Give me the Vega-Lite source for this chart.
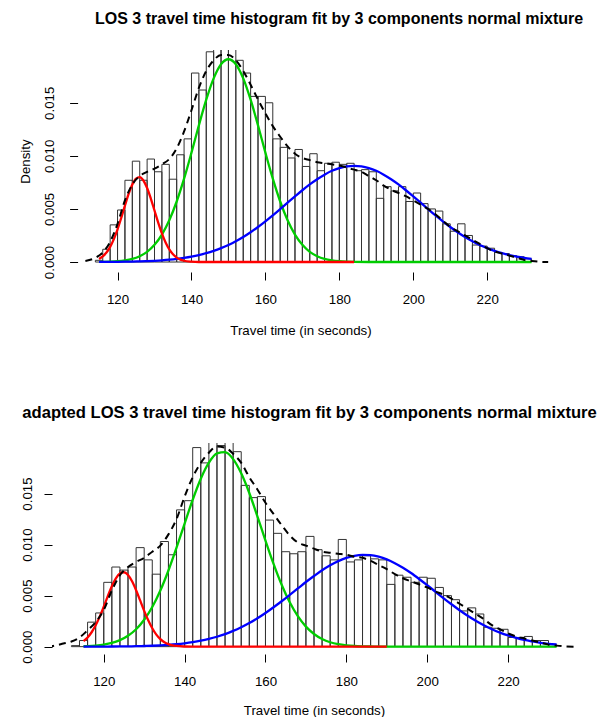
{
 "$schema": "https://vega.github.io/schema/vega-lite/v6.json",
 "padding": {"left": 18, "top": 11, "right": 0, "bottom": 0},
 "config": {
  "font": "Liberation Sans",
  "view": {"stroke": null},
  "axis": {"grid": false, "domain": false, "tickColor": "#000", "tickSize": 8, "labelColor": "#000", "labelFontSize": 13.3, "titleColor": "#000", "titleFontSize": 13.3, "titleFontWeight": "normal", "labelFlush": false, "labelOverlap": false},
  "title": {"fontWeight": "bold", "color": "#000"}
 },
 "bounds": "flush",
 "spacing": 171,
 "datasets": {
  "top_hist": [
   {"x":114,"x_end":116,"d":0.00016},{"x":116,"x_end":118,"d":0.0012},{"x":118,"x_end":120,"d":0.0035},{"x":120,"x_end":122,"d":0.0049},
   {"x":122,"x_end":124,"d":0.0077},{"x":124,"x_end":126,"d":0.0095},{"x":126,"x_end":128,"d":0.0077},{"x":128,"x_end":130,"d":0.0097},
   {"x":130,"x_end":132,"d":0.0085},{"x":132,"x_end":134,"d":0.0092},{"x":134,"x_end":136,"d":0.0078},{"x":136,"x_end":138,"d":0.0101},
   {"x":138,"x_end":140,"d":0.0116},{"x":140,"x_end":142,"d":0.0178},{"x":142,"x_end":144,"d":0.0162},{"x":144,"x_end":146,"d":0.0198},
   {"x":146,"x_end":148,"d":0.021},{"x":148,"x_end":150,"d":0.021},{"x":150,"x_end":152,"d":0.021},{"x":152,"x_end":154,"d":0.0190},
   {"x":154,"x_end":156,"d":0.0178},{"x":156,"x_end":158,"d":0.0156},{"x":158,"x_end":160,"d":0.0156},{"x":160,"x_end":162,"d":0.0150},
   {"x":162,"x_end":164,"d":0.0116},{"x":164,"x_end":166,"d":0.0108},{"x":166,"x_end":168,"d":0.0098},{"x":168,"x_end":170,"d":0.0106},
   {"x":170,"x_end":172,"d":0.0090},{"x":172,"x_end":174,"d":0.0102},{"x":174,"x_end":176,"d":0.0086},{"x":176,"x_end":178,"d":0.0093},
   {"x":178,"x_end":180,"d":0.0094},{"x":180,"x_end":182,"d":0.0092},{"x":182,"x_end":184,"d":0.0093},{"x":184,"x_end":186,"d":0.0086},
   {"x":186,"x_end":188,"d":0.0087},{"x":188,"x_end":190,"d":0.0085},{"x":190,"x_end":192,"d":0.0060},{"x":192,"x_end":194,"d":0.0071},
   {"x":194,"x_end":196,"d":0.0067},{"x":196,"x_end":198,"d":0.0071},{"x":198,"x_end":200,"d":0.0057},{"x":200,"x_end":202,"d":0.0065},
   {"x":202,"x_end":204,"d":0.0055},{"x":204,"x_end":206,"d":0.0050},{"x":206,"x_end":208,"d":0.0048},{"x":208,"x_end":210,"d":0.0036},
   {"x":210,"x_end":212,"d":0.0029},{"x":212,"x_end":214,"d":0.0036},{"x":214,"x_end":216,"d":0.0025},{"x":216,"x_end":218,"d":0.0016},
   {"x":218,"x_end":220,"d":0.0015},{"x":220,"x_end":222,"d":0.0013},{"x":222,"x_end":224,"d":0.0009},{"x":224,"x_end":226,"d":0.0008},
   {"x":226,"x_end":228,"d":0.0006},{"x":228,"x_end":230,"d":0.0005},{"x":230,"x_end":232,"d":0.0003}
  ],
  "top_red": [
   {"x":115,"d":0.00029},{"x":116,"d":0.00053},{"x":117,"d":0.00089},{"x":118,"d":0.00143},{"x":119,"d":0.00216},{"x":120,"d":0.00308},
   {"x":121,"d":0.00416},{"x":122,"d":0.00531},{"x":123,"d":0.00641},{"x":124,"d":0.0073},{"x":125,"d":0.00786},{"x":126,"d":0.00799},
   {"x":127,"d":0.00768},{"x":128,"d":0.00697},{"x":129,"d":0.00598},{"x":130,"d":0.00485},{"x":131,"d":0.00372},{"x":132,"d":0.00269},
   {"x":133,"d":0.00184},{"x":134,"d":0.00119},{"x":135,"d":0.00073},{"x":136,"d":0.00042},{"x":137,"d":0.00023},{"x":138,"d":0.00012},
   {"x":140,"d":0.00003},{"x":142,"d":0},{"x":184,"d":0}
  ],
  "top_green": [
   {"x":115,"d":0.00001},{"x":116,"d":0.000015},{"x":118,"d":0.000034},{"x":120,"d":0.000074},{"x":122,"d":0.00015},{"x":124,"d":0.00029},
   {"x":126,"d":0.00055},{"x":128,"d":0.00096},{"x":130,"d":0.00162},{"x":132,"d":0.00258},{"x":134,"d":0.00393},{"x":136,"d":0.0057},
   {"x":138,"d":0.00785},{"x":140,"d":0.0103},{"x":142,"d":0.01287},{"x":144,"d":0.01529},{"x":146,"d":0.0173},{"x":148,"d":0.01863},
   {"x":150,"d":0.0191},{"x":152,"d":0.01863},{"x":154,"d":0.0173},{"x":156,"d":0.01529},{"x":158,"d":0.01287},{"x":160,"d":0.0103},
   {"x":162,"d":0.00785},{"x":164,"d":0.0057},{"x":166,"d":0.00393},{"x":168,"d":0.00258},{"x":170,"d":0.00162},{"x":172,"d":0.00096},
   {"x":174,"d":0.00055},{"x":176,"d":0.00029},{"x":178,"d":0.00015},{"x":180,"d":0.000074},{"x":182,"d":0.000034},{"x":184,"d":0.000015},
   {"x":188,"d":0.000003},{"x":192,"d":0},{"x":232,"d":0}
  ],
  "top_blue": [
   {"x":115,"d":0.0000074},{"x":116,"d":0.0000091},{"x":118,"d":0.0000136},{"x":120,"d":0.00002},{"x":122,"d":0.000029},{"x":124,"d":0.000042},
   {"x":126,"d":0.00006},{"x":128,"d":0.000084},{"x":130,"d":0.000117},{"x":132,"d":0.00016},{"x":134,"d":0.000217},{"x":136,"d":0.00029},
   {"x":138,"d":0.000385},{"x":140,"d":0.000503},{"x":142,"d":0.00065},{"x":144,"d":0.00083},{"x":146,"d":0.00105},{"x":148,"d":0.00131},
   {"x":150,"d":0.00161},{"x":152,"d":0.00196},{"x":154,"d":0.00236},{"x":156,"d":0.00281},{"x":158,"d":0.0033},{"x":160,"d":0.00383},
   {"x":162,"d":0.0044},{"x":164,"d":0.00499},{"x":166,"d":0.00559},{"x":168,"d":0.00618},{"x":170,"d":0.00676},{"x":172,"d":0.00731},
   {"x":174,"d":0.0078},{"x":176,"d":0.00823},{"x":178,"d":0.00859},{"x":180,"d":0.00885},{"x":182,"d":0.00901},{"x":184,"d":0.00906},
   {"x":186,"d":0.00901},{"x":188,"d":0.00885},{"x":190,"d":0.00859},{"x":192,"d":0.00823},{"x":194,"d":0.0078},{"x":196,"d":0.00731},
   {"x":198,"d":0.00676},{"x":200,"d":0.00618},{"x":202,"d":0.00559},{"x":204,"d":0.00499},{"x":206,"d":0.0044},{"x":208,"d":0.00383},
   {"x":210,"d":0.0033},{"x":212,"d":0.00281},{"x":214,"d":0.00236},{"x":216,"d":0.00196},{"x":218,"d":0.00161},{"x":220,"d":0.00131},
   {"x":222,"d":0.00105},{"x":224,"d":0.00083},{"x":226,"d":0.00065},{"x":228,"d":0.000503},{"x":230,"d":0.000385},{"x":232,"d":0.00029}
  ],
  "top_kde": [
   {"x":111.3,"d":0.0001},{"x":114,"d":0.0004},{"x":116,"d":0.0009},{"x":118,"d":0.0019},{"x":120,"d":0.0036},{"x":122,"d":0.0058},
   {"x":124,"d":0.0073},{"x":126,"d":0.0081},{"x":128,"d":0.0085},{"x":130,"d":0.0088},{"x":132,"d":0.0092},{"x":134,"d":0.0097},
   {"x":136,"d":0.0107},{"x":138,"d":0.0123},{"x":140,"d":0.0143},{"x":142,"d":0.0164},{"x":144,"d":0.018},{"x":146,"d":0.019},
   {"x":148,"d":0.0195},{"x":150,"d":0.0195},{"x":152,"d":0.019},{"x":154,"d":0.018},{"x":156,"d":0.0167},{"x":158,"d":0.0153},
   {"x":160,"d":0.014},{"x":162,"d":0.0128},{"x":164,"d":0.0118},{"x":166,"d":0.0109},{"x":168,"d":0.0102},{"x":170,"d":0.0098},
   {"x":172,"d":0.0096},{"x":174,"d":0.0094},{"x":176,"d":0.0093},{"x":178,"d":0.0092},{"x":180,"d":0.0091},{"x":182,"d":0.0089},
   {"x":184,"d":0.0087},{"x":186,"d":0.0085},{"x":188,"d":0.0081},{"x":190,"d":0.0077},{"x":192,"d":0.0072},{"x":194,"d":0.0068},
   {"x":196,"d":0.0065},{"x":198,"d":0.0062},{"x":200,"d":0.0058},{"x":202,"d":0.0054},{"x":204,"d":0.005},{"x":206,"d":0.0045},
   {"x":208,"d":0.0039},{"x":210,"d":0.0033},{"x":212,"d":0.0029},{"x":214,"d":0.0025},{"x":216,"d":0.0021},{"x":218,"d":0.0017},
   {"x":220,"d":0.0013},{"x":222,"d":0.001},{"x":224,"d":0.0008},{"x":226,"d":0.0006},{"x":228,"d":0.0004},{"x":230,"d":0.0002},
   {"x":232,"d":0.0001},{"x":234,"d":0.00003},{"x":236.5,"d":0}
  ],
  "bot_hist": [
   {"x":112,"x_end":114,"d":0.0001},{"x":114,"x_end":116,"d":0.0006},{"x":116,"x_end":118,"d":0.0024},{"x":118,"x_end":120,"d":0.0033},
   {"x":120,"x_end":122,"d":0.0063},{"x":122,"x_end":124,"d":0.0078},{"x":124,"x_end":126,"d":0.0075},{"x":126,"x_end":128,"d":0.0078},
   {"x":128,"x_end":130,"d":0.0097},{"x":130,"x_end":132,"d":0.0085},{"x":132,"x_end":134,"d":0.0071},{"x":134,"x_end":136,"d":0.0103},
   {"x":136,"x_end":138,"d":0.009},{"x":138,"x_end":140,"d":0.0134},{"x":140,"x_end":142,"d":0.0143},{"x":142,"x_end":144,"d":0.0195},
   {"x":144,"x_end":146,"d":0.018},{"x":146,"x_end":148,"d":0.021},{"x":148,"x_end":150,"d":0.0197},{"x":150,"x_end":152,"d":0.021},
   {"x":152,"x_end":154,"d":0.0191},{"x":154,"x_end":156,"d":0.0158},{"x":156,"x_end":158,"d":0.0146},{"x":158,"x_end":160,"d":0.0147},
   {"x":160,"x_end":162,"d":0.0124},{"x":162,"x_end":164,"d":0.0111},{"x":164,"x_end":166,"d":0.0093},{"x":166,"x_end":168,"d":0.0091},
   {"x":168,"x_end":170,"d":0.0093},{"x":170,"x_end":172,"d":0.0108},{"x":172,"x_end":174,"d":0.0095},{"x":174,"x_end":176,"d":0.0089},
   {"x":176,"x_end":178,"d":0.0085},{"x":178,"x_end":180,"d":0.0105},{"x":180,"x_end":182,"d":0.0083},{"x":182,"x_end":184,"d":0.0085},
   {"x":184,"x_end":186,"d":0.0089},{"x":186,"x_end":188,"d":0.0086},{"x":188,"x_end":190,"d":0.0085},{"x":190,"x_end":192,"d":0.0061},
   {"x":192,"x_end":194,"d":0.007},{"x":194,"x_end":196,"d":0.0068},{"x":196,"x_end":198,"d":0.0063},{"x":198,"x_end":200,"d":0.0068},
   {"x":200,"x_end":202,"d":0.0067},{"x":202,"x_end":204,"d":0.0058},{"x":204,"x_end":206,"d":0.005},{"x":206,"x_end":208,"d":0.0046},
   {"x":208,"x_end":210,"d":0.0035},{"x":210,"x_end":212,"d":0.0038},{"x":212,"x_end":214,"d":0.0032},{"x":214,"x_end":216,"d":0.0019},
   {"x":216,"x_end":218,"d":0.0018},{"x":218,"x_end":220,"d":0.0017},{"x":220,"x_end":222,"d":0.0009},{"x":222,"x_end":224,"d":0.0009},
   {"x":224,"x_end":226,"d":0.001},{"x":226,"x_end":228,"d":0.0006},{"x":228,"x_end":230,"d":0.0006},{"x":230,"x_end":232,"d":0.0002}
  ],
  "bot_red": [
   {"x":115,"d":0.00054},{"x":116,"d":0.0009},{"x":117,"d":0.00141},{"x":118,"d":0.00209},{"x":119,"d":0.00294},{"x":120,"d":0.00392},
   {"x":121,"d":0.00494},{"x":122,"d":0.00591},{"x":123,"d":0.00669},{"x":124,"d":0.00717},{"x":125,"d":0.00729},{"x":126,"d":0.00702},
   {"x":127,"d":0.0064},{"x":128,"d":0.00553},{"x":129,"d":0.00453},{"x":130,"d":0.00351},{"x":131,"d":0.00258},{"x":132,"d":0.0018},
   {"x":133,"d":0.00118},{"x":134,"d":0.00074},{"x":135,"d":0.00044},{"x":136,"d":0.00025},{"x":137,"d":0.00013},{"x":138,"d":0.000066},
   {"x":140,"d":0.000014},{"x":142,"d":0},{"x":190,"d":0}
  ],
  "bot_green": [
   {"x":115,"d":0.000037},{"x":116,"d":0.000053},{"x":118,"d":0.000105},{"x":120,"d":0.0002},{"x":122,"d":0.00036},{"x":124,"d":0.00064},
   {"x":126,"d":0.00107},{"x":128,"d":0.00171},{"x":130,"d":0.00264},{"x":132,"d":0.00389},{"x":134,"d":0.0055},{"x":136,"d":0.00746},
   {"x":138,"d":0.00969},{"x":140,"d":0.01206},{"x":142,"d":0.01439},{"x":144,"d":0.01645},{"x":146,"d":0.01802},{"x":148,"d":0.01893},
   {"x":150,"d":0.01905},{"x":152,"d":0.01837},{"x":154,"d":0.01698},{"x":156,"d":0.01505},{"x":158,"d":0.01277},{"x":160,"d":0.01039},
   {"x":162,"d":0.00811},{"x":164,"d":0.00606},{"x":166,"d":0.00434},{"x":168,"d":0.00298},{"x":170,"d":0.00196},{"x":172,"d":0.00124},
   {"x":174,"d":0.00075},{"x":176,"d":0.00043},{"x":178,"d":0.00024},{"x":180,"d":0.00013},{"x":182,"d":0.000065},{"x":184,"d":0.000032},
   {"x":186,"d":0.000015},{"x":188,"d":0.000007},{"x":192,"d":0},{"x":232,"d":0}
  ],
  "bot_blue": [
   {"x":115,"d":0.0000028},{"x":116,"d":0.0000035},{"x":118,"d":0.0000056},{"x":120,"d":0.0000086},{"x":122,"d":0.000013},{"x":124,"d":0.00002},
   {"x":126,"d":0.00003},{"x":128,"d":0.000043},{"x":130,"d":0.000063},{"x":132,"d":0.00009},{"x":134,"d":0.000127},{"x":136,"d":0.000177},
   {"x":138,"d":0.000243},{"x":140,"d":0.000329},{"x":142,"d":0.00044},{"x":144,"d":0.00058},{"x":146,"d":0.000756},{"x":148,"d":0.00097},
   {"x":150,"d":0.00123},{"x":152,"d":0.00154},{"x":154,"d":0.0019},{"x":156,"d":0.00231},{"x":158,"d":0.00278},{"x":160,"d":0.0033},
   {"x":162,"d":0.00386},{"x":164,"d":0.00445},{"x":166,"d":0.00507},{"x":168,"d":0.0057},{"x":170,"d":0.00633},{"x":172,"d":0.00692},
   {"x":174,"d":0.00748},{"x":176,"d":0.00797},{"x":178,"d":0.00838},{"x":180,"d":0.00869},{"x":182,"d":0.0089},{"x":184,"d":0.00899},
   {"x":186,"d":0.00896},{"x":188,"d":0.00881},{"x":190,"d":0.00855},{"x":192,"d":0.00818},{"x":194,"d":0.00773},{"x":196,"d":0.00721},
   {"x":198,"d":0.00663},{"x":200,"d":0.00602},{"x":202,"d":0.00539},{"x":204,"d":0.00476},{"x":206,"d":0.00415},{"x":208,"d":0.00357},
   {"x":210,"d":0.00303},{"x":212,"d":0.00254},{"x":214,"d":0.0021},{"x":216,"d":0.00171},{"x":218,"d":0.00138},{"x":220,"d":0.0011},
   {"x":222,"d":0.00086},{"x":224,"d":0.00066},{"x":226,"d":0.00051},{"x":228,"d":0.00038},{"x":230,"d":0.00028},{"x":232,"d":0.00021}
  ],
  "bot_kde": [
   {"x":106,"d":0},{"x":108,"d":0.0001},{"x":110,"d":0.0003},{"x":112,"d":0.0005},{"x":114,"d":0.0009},{"x":116,"d":0.0016},
   {"x":118,"d":0.0024},{"x":120,"d":0.0036},{"x":122,"d":0.0055},{"x":124,"d":0.007},{"x":126,"d":0.0078},{"x":128,"d":0.0083},
   {"x":130,"d":0.0087},{"x":132,"d":0.0093},{"x":134,"d":0.0099},{"x":136,"d":0.011},{"x":138,"d":0.0125},{"x":140,"d":0.0147},
   {"x":142,"d":0.0166},{"x":144,"d":0.018},{"x":146,"d":0.019},{"x":148,"d":0.0196},{"x":150,"d":0.0195},{"x":152,"d":0.0189},
   {"x":154,"d":0.018},{"x":156,"d":0.0166},{"x":158,"d":0.0154},{"x":160,"d":0.0141},{"x":162,"d":0.013},{"x":164,"d":0.0119},
   {"x":166,"d":0.0109},{"x":168,"d":0.0102},{"x":170,"d":0.0099},{"x":172,"d":0.0096},{"x":174,"d":0.0093},{"x":176,"d":0.0092},
   {"x":178,"d":0.0091},{"x":180,"d":0.009},{"x":182,"d":0.0088},{"x":184,"d":0.0087},{"x":186,"d":0.0084},{"x":188,"d":0.008},
   {"x":190,"d":0.0076},{"x":192,"d":0.0071},{"x":194,"d":0.0067},{"x":196,"d":0.0064},{"x":198,"d":0.0061},{"x":200,"d":0.0058},
   {"x":202,"d":0.0054},{"x":204,"d":0.0051},{"x":206,"d":0.0047},{"x":208,"d":0.0042},{"x":210,"d":0.0037},{"x":212,"d":0.0032},
   {"x":214,"d":0.0027},{"x":216,"d":0.0021},{"x":218,"d":0.0017},{"x":220,"d":0.0013},{"x":222,"d":0.001},{"x":224,"d":0.0008},
   {"x":226,"d":0.0006},{"x":228,"d":0.0004},{"x":230,"d":0.0002},{"x":232,"d":0.0001},{"x":234,"d":0.00003},{"x":236.5,"d":0}
  ],
  "one": [{}]
 },
 "vconcat": [
  {
   "width": 497, "height": 222,
   "title": {"text": "LOS 3 travel time histogram fit by 3 components normal mixture", "anchor": "start", "frame": "group", "dx": 43, "offset": 22.6, "fontSize": 16},
   "encoding": {
    "x": {"field": "x", "type": "quantitative", "scale": {"domain": [102.27, 236.72], "nice": false, "zero": false},
          "axis": {"values": [120,140,160,180,200,220], "labelPadding": 12, "title": "Travel time (in seconds)", "titlePadding": 18}},
    "y": {"field": "d", "type": "quantitative", "scale": {"domain": [-0.00094, 0.01997], "nice": false, "zero": false},
          "axis": {"values": [0,0.005,0.01,0.015], "format": ".3f", "offset": -25.6, "labelAngle": -90, "labelAlign": "center", "labelBaseline": "bottom", "labelPadding": 13, "title": "Density", "titlePadding": 10}}
   },
   "layer": [
    {"data": {"name": "top_hist"}, "mark": {"type": "rect", "filled": false, "stroke": "#333", "strokeWidth": 1, "clip": true}, "encoding": {"x2": {"field": "x_end"}, "y2": {"datum": 0}}},
    {"data": {"name": "top_green"}, "mark": {"type": "line", "color": "#00CD00", "strokeWidth": 2.3, "interpolate": "monotone", "clip": true}},
    {"data": {"name": "top_blue"}, "mark": {"type": "line", "color": "#0000FF", "strokeWidth": 2.3, "interpolate": "monotone", "clip": true}},
    {"data": {"name": "top_red"}, "mark": {"type": "line", "color": "#FF0000", "strokeWidth": 2.3, "interpolate": "monotone", "clip": true}},
    {"data": {"name": "top_kde"}, "mark": {"type": "line", "color": "#000", "strokeWidth": 2, "strokeDash": [7, 5], "interpolate": "monotone", "clip": true}},
    {"data": {"name": "one"}, "mark": {"type": "rule", "color": "#000", "strokeWidth": 1}, "encoding": {"x": {"datum": 109.28}, "y": {"datum": 0}, "y2": {"datum": 0.015}}},
    {"data": {"name": "one"}, "mark": {"type": "rule", "color": "#000", "strokeWidth": 1}, "encoding": {"x": {"datum": 120}, "x2": {"datum": 220}, "y": {"datum": -0.00094}}}
   ]
  },
  {
   "width": 524, "height": 211,
   "title": {"text": "adapted LOS 3 travel time histogram fit by 3 components normal mixture", "anchor": "start", "frame": "group", "dx": -29.7, "offset": 21.5, "fontSize": 16.6},
   "encoding": {
    "x": {"field": "x", "type": "quantitative", "scale": {"domain": [107.2, 236.8], "nice": false, "zero": false},
          "axis": {"values": [120,140,160,180,200,220], "labelPadding": 12, "title": "Travel time (in seconds)", "titlePadding": 16}},
    "y": {"field": "d", "type": "quantitative", "scale": {"domain": [-0.00072, 0.01995], "nice": false, "zero": false},
          "axis": {"values": [0,0.005,0.01,0.015], "format": ".3f", "labelAngle": -90, "labelAlign": "center", "labelBaseline": "bottom", "labelPadding": 9.5, "title": null}}
   },
   "layer": [
    {"data": {"name": "bot_hist"}, "mark": {"type": "rect", "filled": false, "stroke": "#333", "strokeWidth": 1, "clip": true}, "encoding": {"x2": {"field": "x_end"}, "y2": {"datum": 0}}},
    {"data": {"name": "bot_green"}, "mark": {"type": "line", "color": "#00CD00", "strokeWidth": 2.3, "interpolate": "monotone", "clip": true}},
    {"data": {"name": "bot_blue"}, "mark": {"type": "line", "color": "#0000FF", "strokeWidth": 2.3, "interpolate": "monotone", "clip": true}},
    {"data": {"name": "bot_red"}, "mark": {"type": "line", "color": "#FF0000", "strokeWidth": 2.3, "interpolate": "monotone", "clip": true}},
    {"data": {"name": "bot_kde"}, "mark": {"type": "line", "color": "#000", "strokeWidth": 2, "strokeDash": [7, 5], "interpolate": "monotone", "clip": true}},
    {"data": {"name": "one"}, "mark": {"type": "rule", "color": "#000", "strokeWidth": 1}, "encoding": {"x": {"datum": 107.2}, "y": {"datum": 0}, "y2": {"datum": 0.015}}},
    {"data": {"name": "one"}, "mark": {"type": "rule", "color": "#000", "strokeWidth": 1}, "encoding": {"x": {"datum": 120}, "x2": {"datum": 220}, "y": {"datum": -0.00072}}}
   ]
  }
 ]
}
